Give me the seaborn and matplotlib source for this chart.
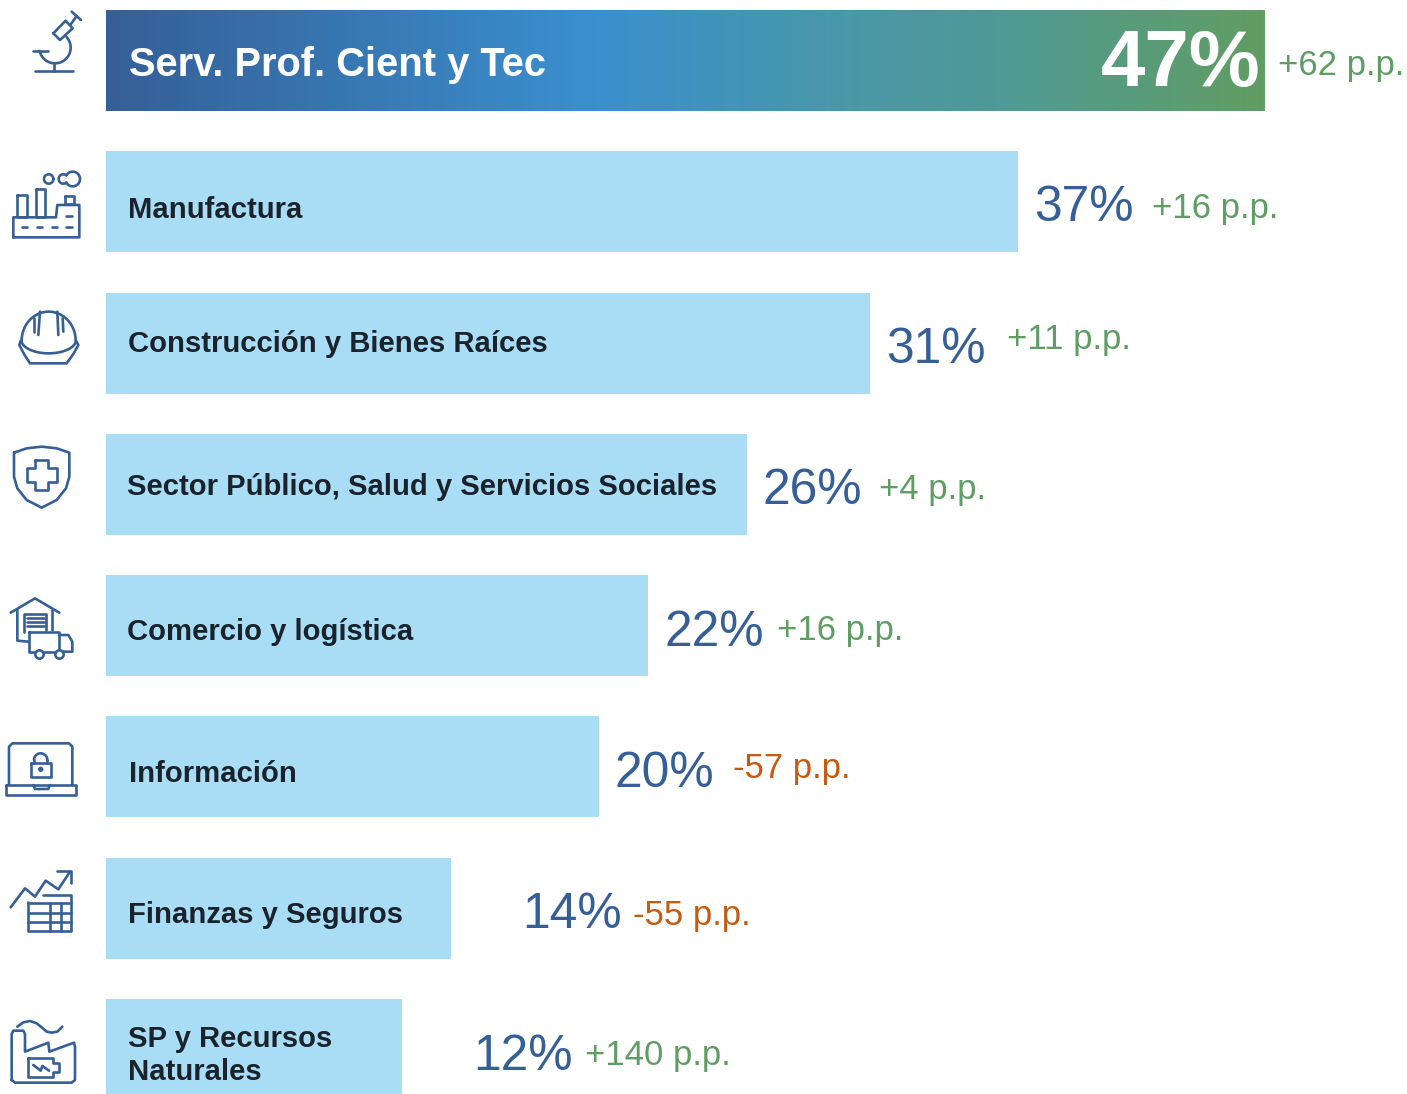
import matplotlib
matplotlib.use("Agg")
import matplotlib.pyplot as plt
from matplotlib.colors import LinearSegmentedColormap
import seaborn as sns
import pandas as pd
import numpy as np

sectores = ["Serv. Prof. Cient y Tec", "Manufactura", "Construcción y Bienes Raíces",
            "Sector Público, Salud y Servicios Sociales", "Comercio y logística",
            "Información", "Finanzas y Seguros", "SP y Recursos\nNaturales"]
shares = [47, 37, 31, 26, 22, 20, 14, 12]
deltas = [62, 16, 11, 4, 16, -57, -55, 140]

# layout, in pixels from the bar end / bar centre
pct_dx = [0, 16, 16, 16, 16, 16, 71, 71]
pct_dy = [0, -6, -7, -7, -8, -7, -7, -8]
delta_dx = [13, 134, 137, 132, 129, 134, 182, 183]
delta_dy = [-5, -7, 3, -5, -5, -2, -8, -6]
label_dx = [23, 22, 22, 21, 21, 23, 22, 22]
label_dy = [-4, -8, -1, -3, -6, -7, -7, -6]

BLUE = "#355F96"
GREEN = "#5F9D65"
ORANGE = "#C55A11"
LIGHT = "#A9DDF6"
DARK = "#1A232C"
W, H = 1407, 1094
PX_PER_PCT = 24.65
ROW = 141.25

sns.set_theme(style="white")
plt.rcParams["font.family"] = ["Liberation Sans", "DejaVu Sans"]

df = pd.DataFrame({"sector": sectores, "share": shares})
fig = plt.figure(figsize=(W / 100, H / 100), dpi=100)
ax = fig.add_axes([0, 0, 1, 1])
sns.barplot(data=df, x="share", y="sector", color=LIGHT, saturation=1, width=101 / ROW, linewidth=0, edgecolor="none", ax=ax)
ax.set_xlim(-106 / PX_PER_PCT, (W - 106) / PX_PER_PCT)
ax.set_ylim((H - 60.5) / ROW, -60.5 / ROW)
ax.axis("off")

# gradient on the top bar
top = ax.containers[0][0]
cmap = LinearSegmentedColormap.from_list("g", [(0, "#365F97"), (0.42, "#3A90CE"), (0.65, "#4A98A6"), (0.77, "#4F9A96"), (1, "#619D62")])
img = ax.imshow(np.linspace(0, 1, 512)[None, :], cmap=cmap, aspect="auto",
                extent=(0, shares[0], top.get_y() + top.get_height(), top.get_y()), zorder=3)
img.set_clip_path(top)
ax.set_xlim(-106 / PX_PER_PCT, (W - 106) / PX_PER_PCT)
ax.set_ylim((H - 60.5) / ROW, -60.5 / ROW)

for i, (s, name, d) in enumerate(zip(shares, sectores, deltas)):
    first = i == 0
    ax.annotate(name, (0, i), xytext=(label_dx[i], label_dy[i]), textcoords="offset pixels",
                ha="left", va="center", fontweight="bold", fontsize=28.7 if first else 21.1,
                color="white" if first else DARK, zorder=5, linespacing=1.22)
    if first:
        ax.annotate(f"{s}%", (s, i), xytext=(-4, -5), textcoords="offset pixels", ha="right", va="center",
                    fontweight="bold", fontsize=57.5, color="white", zorder=5)
    else:
        ax.annotate(f"{s}%", (s, i), xytext=(pct_dx[i], pct_dy[i]), textcoords="offset pixels",
                    ha="left", va="center", fontsize=35.8, color=BLUE, zorder=5)
    ax.annotate(f"{d:+d} p.p.", (s, i), xytext=(delta_dx[i], delta_dy[i]), textcoords="offset pixels",
                ha="left", va="center", fontsize=25, color=GREEN if d > 0 else ORANGE, zorder=5)

# icons, traced at 3x from the picture
ic = fig.add_axes([0, 0, 1, 1], facecolor="none")
ic.set_xlim(0, W)
ic.set_ylim(H, 0)
ic.axis("off")
LW = 1.9


def line(pts, oy=0, close=False):
    p = np.array(pts, dtype=float)
    if close:
        p = np.vstack([p, p[0]])
    ic.plot(p[:, 0] / 3, p[:, 1] / 3 + oy, color=BLUE, lw=LW, solid_capstyle="round", solid_joinstyle="round")


def arc(cx, cy, r, a0=0, a1=360, oy=0, ry=None):
    t = np.radians(np.linspace(a0, a1, 50))
    line(np.c_[cx + r * np.cos(t), cy + (ry or r) * np.sin(t)], oy)


def rect(x0, y0, x1, y1, oy=0):
    line([(x0, y0), (x1, y0), (x1, y1), (x0, y1)], oy, close=True)


# microscope
line([(105, 212), (220, 212)])
line([(163, 190), (163, 212)])
line([(98, 153), (145, 153)])
arc(165, 143, 47, 168, -43)
line([(160, 100), (197, 62), (218, 85), (180, 120)], close=True)
line([(213, 72), (230, 48)])
line([(215, 35), (243, 60)])

# factory
line([(40, 712), (40, 652), (168, 652), (172, 615), (238, 615), (238, 712)], close=True)
rect(52, 585, 80, 650)
rect(107, 568, 135, 650)
rect(195, 587, 222, 612)
for x0, x1 in [(65, 80), (110, 125), (155, 170), (198, 215)]:
    line([(x0, 680), (x1, 680)])
line([(198, 648), (215, 648)])
arc(146, 537, 14)
arc(190, 537, 14, 50, 310)
arc(218, 537, 22, -150, 150)

# helmet
arc(146, 1022, 81, 180, 360, ry=87)
line([(62, 1022), (58, 1035), (72, 1062), (90, 1090), (200, 1090), (220, 1062), (235, 1035), (228, 1022)])
arc(146, 1020, 82, 172, 8, ry=40)
line([(120, 935), (115, 1005)])
line([(172, 935), (175, 1005)])
line([(103, 955), (103, 995)])
line([(188, 955), (190, 995)])

# shield
line([(42, 68), (80, 55), (125, 50), (170, 55), (208, 68), (208, 140), (198, 175), (170, 210), (125, 233),
      (80, 210), (52, 175), (42, 140)], 430, close=True)
line([(105, 90), (145, 90), (145, 115), (170, 115), (170, 155), (145, 155), (145, 180), (105, 180), (105, 155),
      (80, 155), (80, 115), (105, 115)], 430, close=True)

# warehouse and truck
line([(32, 548), (105, 505), (178, 548)], 430)
line([(52, 540), (52, 632), (85, 635)], 430)
line([(155, 540), (155, 600)], 430)
line([(72, 605), (72, 552), (138, 552), (138, 600)], 430)
for y in (563, 575, 587):
    line([(80, y), (133, y)], 430)
rect(87, 605, 177, 665, 430)
line([(177, 615), (205, 615), (217, 635), (217, 665), (190, 665)], 430)
for x in (117, 177):
    ic.scatter(x / 3, 672 / 3 + 430, s=36, facecolor="white", edgecolor=BLUE, linewidth=LW, zorder=3)

# laptop
line([(27, 1065), (27, 950), (37, 940), (207, 940), (217, 950), (217, 1065)], 430)
rect(18, 1065, 228, 1095, 430)
line([(100, 1065), (105, 1077), (145, 1077), (150, 1065)], 430)
rect(93, 1000, 152, 1042, 430)
arc(122, 990, 20, 180, 360, 430)
line([(102, 990), (102, 1000)], 430)
line([(142, 990), (142, 1000)], 430)
arc(122, 1018, 4, oy=430)

# chart and table
line([(32, 172), (75, 115), (105, 140), (137, 92), (175, 118), (210, 65)], 850)
line([(172, 63), (212, 63), (212, 100)], 850)
line([(130, 135), (213, 135), (213, 242), (85, 242), (85, 155)], 850)
for y in (160, 188, 215):
    line([(85, y), (213, y)], 850)
for x in (150, 183):
    line([(x, 160), (x, 242)], 850)

# energy plant
line([(52, 530), (70, 517), (90, 513), (110, 520), (125, 532), (140, 545), (155, 548), (172, 545), (187, 530)], 850)
line([(35, 690), (35, 552), (40, 542), (70, 542), (75, 552), (75, 605), (145, 578), (148, 605), (222, 578),
      (225, 590), (225, 690), (215, 698), (45, 698)], 850, close=True)
line([(83, 625), (160, 625), (160, 640), (177, 640), (177, 665), (160, 665), (160, 680), (83, 680)], 850, close=True)
line([(100, 645), (122, 662), (127, 648), (147, 662)], 850)

ic.set_xlim(0, W)
ic.set_ylim(H, 0)

plt.savefig("out.png", dpi=100)
